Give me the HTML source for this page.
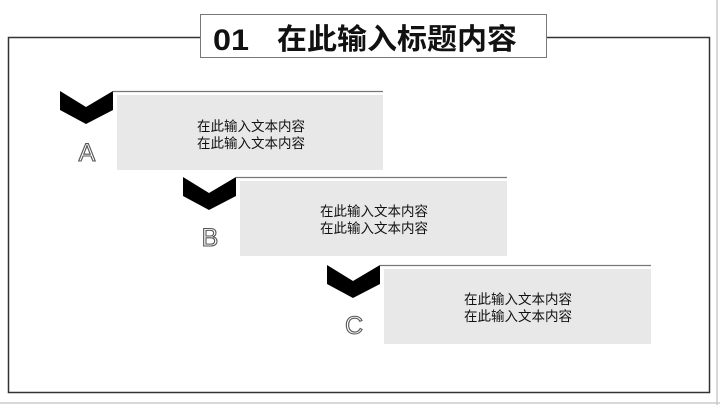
<!DOCTYPE html>
<html><head><meta charset="utf-8"><style>
html,body{margin:0;padding:0;background:#fff;}
svg{display:block;}
</style></head><body>
<svg width="720" height="405" viewBox="0 0 720 405" xmlns="http://www.w3.org/2000/svg" font-family="Liberation Sans, Noto Sans CJK SC, sans-serif">
<rect x="0" y="0" width="720" height="405" fill="#fff"/>
<line x1="0" y1="403" x2="720" y2="403" stroke="#ccc" stroke-width="1.5"/>
<line x1="717" y1="0" x2="717" y2="405" stroke="#ccc" stroke-width="1.5"/>
<rect x="8.5" y="37.5" width="701" height="355" fill="none" stroke="#333" stroke-width="1.5"/>
<rect x="200.5" y="14.5" width="346" height="43" fill="#fff" stroke="#777" stroke-width="1"/>
<text x="213" y="50" font-size="30" font-weight="bold" fill="#111" textLength="36" lengthAdjust="spacingAndGlyphs">01</text>
<text x="277" y="49" font-size="29" font-weight="bold" fill="#111" textLength="240" lengthAdjust="spacingAndGlyphs" font-family="Noto Sans CJK SC, sans-serif">在此输入标题内容</text>

<line x1="113" y1="91.5" x2="383" y2="91.5" stroke="#777" stroke-width="1.2"/>
<rect x="117" y="95" width="266" height="75" fill="#e8e8e8"/>
<polygon points="60,91 86,107 113,91 113,110 86,124 60,110" fill="#000"/>
<text x="251" y="131" font-size="13.5" text-anchor="middle" fill="#111" font-family="Noto Sans CJK SC, sans-serif">在此输入文本内容</text>
<text x="251" y="148" font-size="13.5" text-anchor="middle" fill="#111" font-family="Noto Sans CJK SC, sans-serif">在此输入文本内容</text>
<text x="87" y="161" font-size="25" text-anchor="middle" fill="#fff" stroke="#555" stroke-width="1.1">A</text>

<line x1="236" y1="177.5" x2="507" y2="177.5" stroke="#777" stroke-width="1.2"/>
<rect x="240" y="181" width="267" height="75" fill="#e8e8e8"/>
<polygon points="183,177 209,193 236,177 236,196 209,210 183,196" fill="#000"/>
<text x="374" y="216" font-size="13.5" text-anchor="middle" fill="#111" font-family="Noto Sans CJK SC, sans-serif">在此输入文本内容</text>
<text x="374" y="233" font-size="13.5" text-anchor="middle" fill="#111" font-family="Noto Sans CJK SC, sans-serif">在此输入文本内容</text>
<text x="210" y="246" font-size="25" text-anchor="middle" fill="#fff" stroke="#555" stroke-width="1.1">B</text>

<line x1="380" y1="265.5" x2="651" y2="265.5" stroke="#777" stroke-width="1.2"/>
<rect x="384" y="269" width="267" height="75" fill="#e8e8e8"/>
<polygon points="327,265 353,281 380,265 380,284 353,298 327,284" fill="#000"/>
<text x="518" y="304" font-size="13.5" text-anchor="middle" fill="#111" font-family="Noto Sans CJK SC, sans-serif">在此输入文本内容</text>
<text x="518" y="321" font-size="13.5" text-anchor="middle" fill="#111" font-family="Noto Sans CJK SC, sans-serif">在此输入文本内容</text>
<text x="354" y="334" font-size="25" text-anchor="middle" fill="#fff" stroke="#555" stroke-width="1.1">C</text>
</svg>
</body></html>
